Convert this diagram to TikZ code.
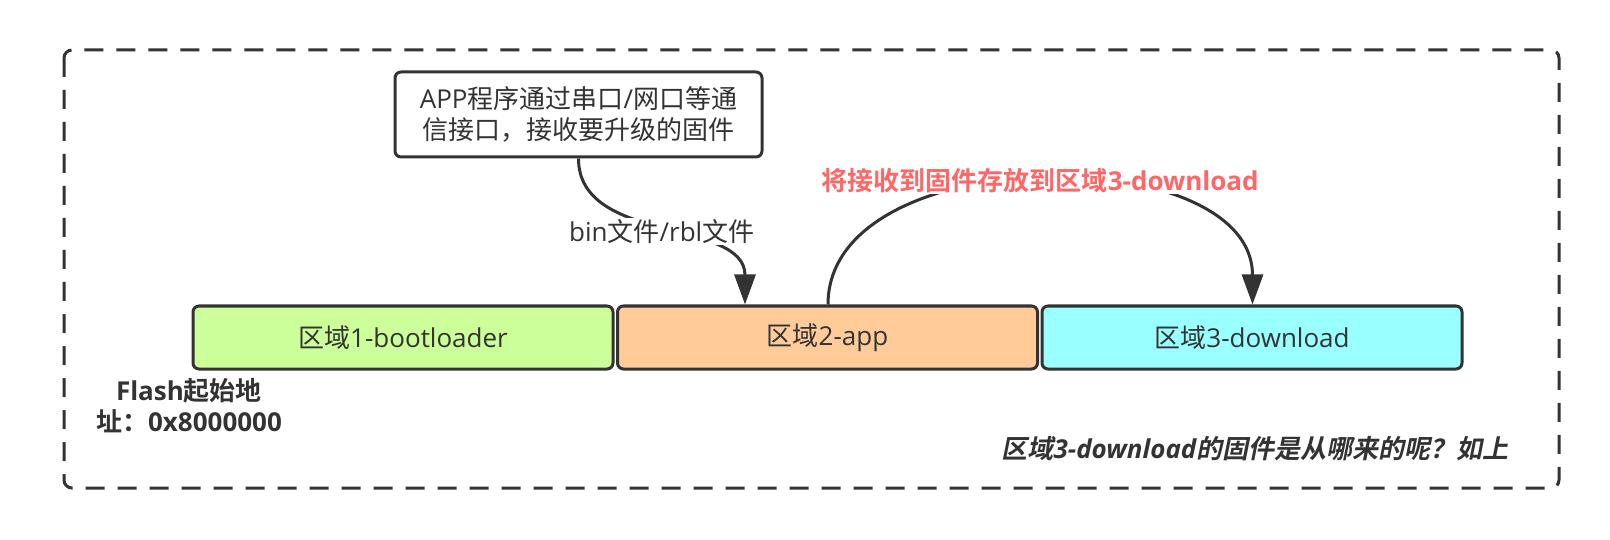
\documentclass[tikz,border=0pt]{standalone}
\usepackage{fontspec}
\setmainfont{Open Sans}
\newfontfamily\cjk{Noto Sans CJK SC}[BoldFont={Noto Sans CJK SC Bold},
  ItalicFont={Noto Sans CJK SC},ItalicFeatures={FakeSlant=0.2},
  BoldItalicFont={Noto Sans CJK SC Bold},BoldItalicFeatures={FakeSlant=0.2}]
\newcommand{\zh}[1]{{\cjk #1}}
\newcommand{\bodyfont}{\fontsize{26pt}{31pt}\selectfont}
\usepackage{tikz}
\usetikzlibrary{arrows.meta,positioning}
\definecolor{lineclr}{RGB}{51,51,51}
\definecolor{bootgreen}{RGB}{204,255,153}
\definecolor{appornge}{RGB}{255,204,153}
\definecolor{dlcyan}{RGB}{153,255,255}
\definecolor{notered}{RGB}{255,102,102}

\begin{document}
\begin{tikzpicture}[x=1pt,y=1pt,every node/.style={font=\bodyfont,text=lineclr},
    region/.style={draw=lineclr,line width=3pt,rounded corners=6pt,minimum width=420pt,minimum height=63pt,inner sep=0pt},
    flow/.style={draw=lineclr,line width=3pt,-{Triangle[length=30pt,width=21pt]}}]
  \useasboundingbox (0,0) rectangle (1610,-540);
  \draw[lineclr,line width=3pt,dash pattern=on 19pt off 13pt,rounded corners=8pt](64,-50)rectangle(1559,-488);
  % flash regions
  \foreach \k/\col/\lbl in {1/bootgreen/bootloader,2/appornge/app,3/dlcyan/download}{
    \node[region,fill=\col] (r\k) at (403+424.5*\k-424.5,-337.5) {\zh{区域}\k-\lbl};
  }
  \node[draw=lineclr,line width=3pt,rounded corners=6pt,fill=white,minimum width=367pt,minimum height=85pt,align=center] (recv) at (578.5,-114.5)
    {APP\zh{程序通过串口}/\zh{网口等通}\\\zh{信接口，接收要升级的固件}};
  \draw[flow] (recv.south) to[out=-90,in=90]
    node[fill=white,inner sep=1pt] (fmt) {bin\zh{文件}/rbl\zh{文件}} ([xshift=129pt]r2.north west);
  \draw[flow] ([xshift=212pt]r2.north west) to[out=90,in=90]
    node[fill=white,inner sep=1pt,text=notered,font=\bodyfont\bfseries] (store) {\zh{将接收到固件存放到区域}3-download} ([xshift=212pt]r3.north west);
  \node[font=\bodyfont\bfseries,align=center] (start) at (189,-406) {Flash\zh{起始地}\\\zh{址：}0x8000000};
  \node[font=\bodyfont\bfseries\itshape] (ask) at (1255,-449) {\zh{区域}3-download\zh{的固件是从哪来的呢？如上}};
\end{tikzpicture}
\end{document}
